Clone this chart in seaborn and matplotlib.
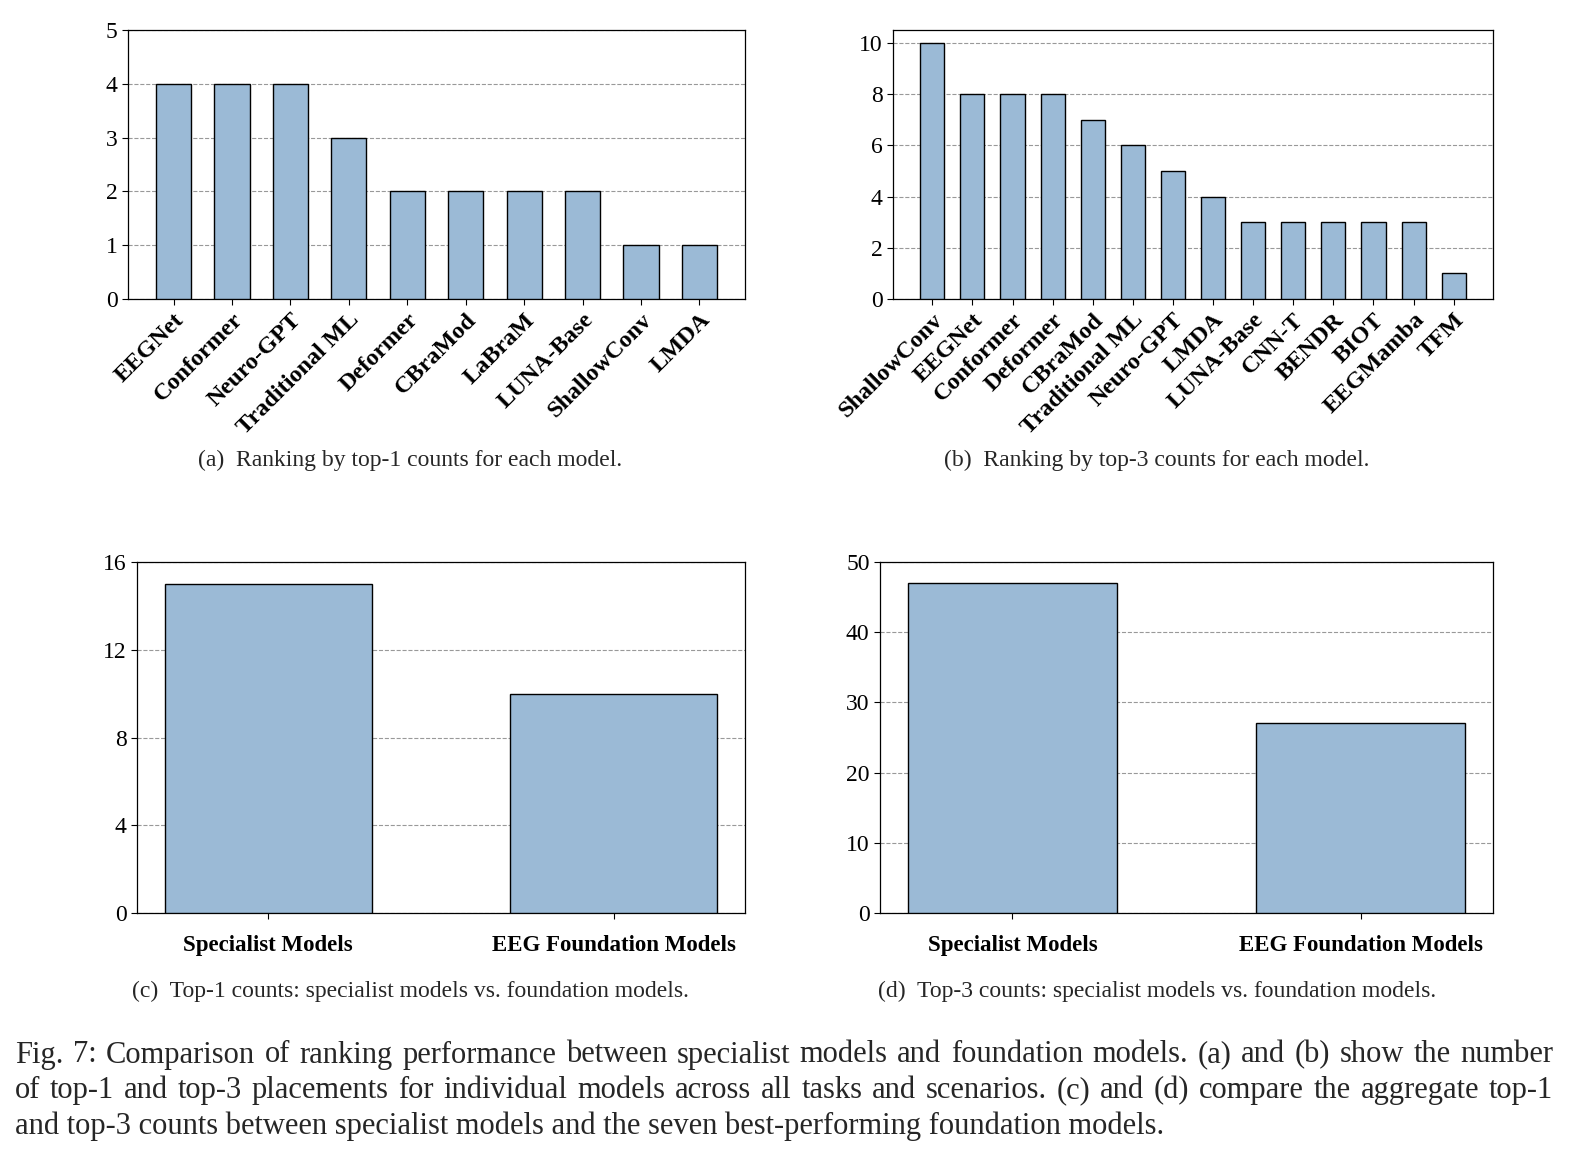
import matplotlib
matplotlib.use("Agg")
import matplotlib.pyplot as plt
import seaborn as sns
import pandas as pd

# data
top1_models = ['EEGNet', 'Conformer', 'Neuro-GPT', 'Traditional ML', 'Deformer',
               'CBraMod', 'LaBraM', 'LUNA-Base', 'ShallowConv', 'LMDA']
top1_counts = [4, 4, 4, 3, 2, 2, 2, 2, 1, 1]

top3_models = ['ShallowConv', 'EEGNet', 'Conformer', 'Deformer', 'CBraMod',
               'Traditional ML', 'Neuro-GPT', 'LMDA', 'LUNA-Base', 'CNN-T',
               'BENDR', 'BIOT', 'EEGMamba', 'TFM']
top3_counts = [10, 8, 8, 8, 7, 6, 5, 4, 3, 3, 3, 3, 3, 1]

groups = ['Specialist Models', 'EEG Foundation Models']
group_top1 = [15, 10]
group_top3 = [47, 27]

captions = ['(a)  Ranking by top-1 counts for each model.',
            '(b)  Ranking by top-3 counts for each model.',
            '(c)  Top-1 counts: specialist models vs. foundation models.',
            '(d)  Top-3 counts: specialist models vs. foundation models.']

fig_caption = [
    'Fig. 7: Comparison of ranking performance between specialist models and foundation models. (a) and (b) show the number',
    'of top-1 and top-3 placements for individual models across all tasks and scenarios. (c) and (d) compare the aggregate top-1',
    'and top-3 counts between specialist models and the seven best-performing foundation models.',
]

sns.set_style('white')
plt.rcParams['font.family'] = ['Liberation Serif', 'DejaVu Serif']

W, H = 1574, 1157
fig = plt.figure(figsize=(W / 100, H / 100), dpi=100)


def make_ax(l, r, t, b):
    return fig.add_axes([l / W, 1 - b / H, (r - l) / W, (b - t) / H])


bar_color = '#9BBAD6'


def draw(ax, cats, vals, ylim, yticks, rot):
    df = pd.DataFrame({'model': cats, 'count': vals})
    sns.barplot(data=df, x='model', y='count', color=bar_color, width=0.6,
                edgecolor='black', linewidth=1.0, saturation=1, ax=ax, zorder=3)
    n = len(cats)
    pad = 0.05 * (n - 1 + 0.6)
    ax.set_xlim(-0.3 - pad, n - 1 + 0.3 + pad)
    ax.set_ylim(*ylim)
    ax.set_yticks(yticks)
    ax.grid(axis='y', linestyle='--', color='gray', linewidth=0.8, alpha=0.8, zorder=0)
    ax.set_axisbelow(True)
    ax.set_xlabel('')
    ax.set_ylabel('')
    for s in ax.spines.values():
        s.set_color('black')
        s.set_linewidth(0.9)
    ax.tick_params(axis='both', direction='out', length=4, width=0.8, colors='black',
                   labelsize=17, bottom=True, left=True)
    ax.set_xticks(range(n))
    if rot:
        ax.set_xticklabels(cats, rotation=45, ha='right', rotation_mode='anchor',
                           fontweight='bold', fontsize=17.5)
    else:
        ax.set_xticklabels(cats, fontweight='bold', fontsize=16.5)
        ax.tick_params(axis='x', pad=12)


ax_a = make_ax(128, 745, 30, 299)
draw(ax_a, top1_models, top1_counts, (0, 5), range(0, 6), True)

ax_b = make_ax(893, 1493, 30, 299)
draw(ax_b, top3_models, top3_counts, (0, 10.5), range(0, 11, 2), True)

ax_c = make_ax(137, 745, 562, 913)
draw(ax_c, groups, group_top1, (0, 16), range(0, 17, 4), False)

ax_d = make_ax(880, 1493, 562, 913)
draw(ax_d, groups, group_top3, (0, 50), range(0, 51, 10), False)

cap_pos = [(410, 460), (1157, 460), (410, 991), (1157, 991)]
for (x, y), c in zip(cap_pos, captions):
    fig.text(x / W, 1 - y / H, c, ha='center', va='center', fontsize=17)

# justified figure caption
renderer = fig.canvas.get_renderer()
x0, x1 = 15, 1553
for i, line in enumerate(fig_caption):
    y = 1 - (1055 + 35.5 * i) / H
    if i == len(fig_caption) - 1:
        fig.text(x0 / W, y, line, ha='left', va='center', fontsize=22)
        continue
    words = line.split(' ')
    widths = []
    for w in words:
        t = fig.text(0, 0, w, fontsize=22)
        widths.append(t.get_window_extent(renderer).width)
        t.remove()
    gap = (x1 - x0 - sum(widths)) / (len(words) - 1)
    x = x0
    for w, wd in zip(words, widths):
        fig.text(x / W, y, w, ha='left', va='center', fontsize=22)
        x += wd + gap

fig.savefig('out.png', dpi=100)
